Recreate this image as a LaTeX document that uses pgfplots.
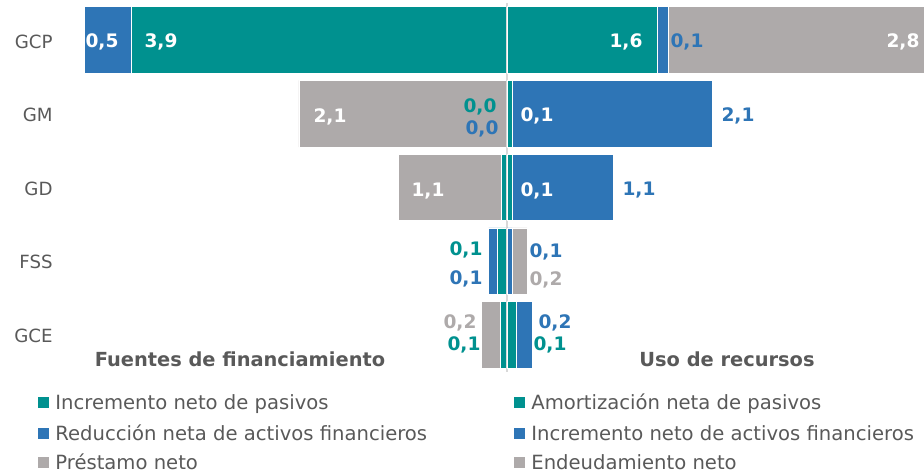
\documentclass[border=0pt]{standalone}
\usepackage{pgfplots}
\pgfplotsset{compat=1.18}
\usepackage{fontspec}
\setmainfont{DejaVu Sans}
\definecolor{cteal}{HTML}{00918F}
\definecolor{cblue}{HTML}{2E75B6}
\definecolor{cgray}{HTML}{AEAAAA}
\definecolor{ctext}{HTML}{595959}
\definecolor{cline}{HTML}{D9D9D9}
\pgfplotsset{bfly/.style={
  xbar stacked, scale only axis, width=420pt, height=184.25pt,
  anchor=north west, at={(42pt,-1.6pt)},
  xmin=-4.453, xmax=4.389, ymin=-0.5, ymax=4.5, y dir=reverse,
  bar width=33.25pt, axis lines=none, xtick=\empty, ytick=\empty,
  every axis plot/.append style={draw=white, line width=0.3pt}
}}
\newcommand{\dl}{\fontsize{9.3}{10}\selectfont\bfseries}
\begin{document}
\begin{tikzpicture}
\useasboundingbox (0,0) rectangle (462pt,-237.5pt);
% left side: Fuentes de financiamiento
\begin{axis}[bfly]
\addplot[fill=cteal] coordinates {(-3.96,0) (0,1) (-0.06,2) (-0.10,3) (-0.07,4)};
\addplot[fill=cblue] coordinates {(-0.49,0) (0,1) (0,2) (-0.095,3) (0,4)};
\addplot[fill=cgray] coordinates {(0,0) (-2.19,1) (-1.08,2) (0,3) (-0.20,4)};
\end{axis}
% right side: Uso de recursos
\begin{axis}[bfly]
\addplot[fill=cteal] coordinates {(1.58,0) (0.06,1) (0.06,2) (0,3) (0.10,4)};
\addplot[fill=cblue] coordinates {(0.12,0) (2.10,1) (1.06,2) (0.05,3) (0.17,4)};
\addplot[fill=cgray] coordinates {(2.80,0) (0,1) (0,2) (0.16,3) (0,4)};
\draw[cline, line width=0.75pt] (axis cs:0,-0.5) -- (axis cs:0,4.5);
\end{axis}
\begin{scope}[x=0.5pt,y=-0.5pt,
  lab/.style={inner sep=0pt, text height=0.73em, text depth=0pt, font=\dl},
  cat/.style={inner sep=0pt, text height=0.73em, text depth=0pt, anchor=east, text=ctext, font=\fontsize{9.1}{10}\selectfont},
  leg/.style={inner sep=0pt, text height=0.73em, text depth=0pt, anchor=west, text=ctext, font=\fontsize{9.8}{11}\selectfont}]
% category labels
\node[cat] at (53,41) {GCP};
\node[cat] at (53,114) {GM};
\node[cat] at (53,188) {GD};
\node[cat] at (53,261) {FSS};
\node[cat] at (53,335) {GCE};
% data labels GCP
\node[lab,text=white] at (102,40) {0,5};
\node[lab,text=white] at (161,40) {3,9};
\node[lab,text=white] at (626,40) {1,6};
\node[lab,text=cblue] at (687,40) {0,1};
\node[lab,text=white] at (903,40) {2,8};
% GM
\node[lab,text=white] at (330,115) {2,1};
\node[lab,text=cteal] at (480,105) {0,0};
\node[lab,text=cblue] at (482,127) {0,0};
\node[lab,text=white] at (537,114) {0,1};
\node[lab,text=cblue] at (738,114) {2,1};
% GD
\node[lab,text=white] at (428,189) {1,1};
\node[lab,text=white] at (537,189) {0,1};
\node[lab,text=cblue] at (639,188) {1,1};
% FSS
\node[lab,text=cteal] at (466,248) {0,1};
\node[lab,text=cblue] at (466,277) {0,1};
\node[lab,text=cblue] at (546,250) {0,1};
\node[lab,text=cgray] at (546,278) {0,2};
% GCE
\node[lab,text=cgray] at (460,321) {0,2};
\node[lab,text=cteal] at (464,343) {0,1};
\node[lab,text=cblue] at (555,321) {0,2};
\node[lab,text=cteal] at (550,343) {0,1};
% headers
\node[inner sep=0pt, text height=0.73em, text depth=0pt, text=ctext, font=\fontsize{9.7}{11}\selectfont\bfseries] at (240,359) {Fuentes de financiamiento};
\node[inner sep=0pt, text height=0.73em, text depth=0pt, text=ctext, font=\fontsize{9.7}{11}\selectfont\bfseries] at (727,359) {Uso de recursos};
% legend
\fill[cteal] (38,396.5) rectangle (49,407.5);
\fill[cblue] (38,427.5) rectangle (49,438.5);
\fill[cgray] (38,456.5) rectangle (49,467.5);
\node[leg] at (55,402) {Incremento neto de pasivos};
\node[leg] at (55,433) {Reducción neta de activos financieros};
\node[leg] at (55,462) {Préstamo neto};
\fill[cteal] (514,396.5) rectangle (525,407.5);
\fill[cblue] (514,427.5) rectangle (525,438.5);
\fill[cgray] (514,456.5) rectangle (525,467.5);
\node[leg] at (531,402) {Amortización neta de pasivos};
\node[leg] at (531,433) {Incremento neto de activos financieros};
\node[leg] at (531,462) {Endeudamiento neto};
\end{scope}
\end{tikzpicture}
\end{document}
